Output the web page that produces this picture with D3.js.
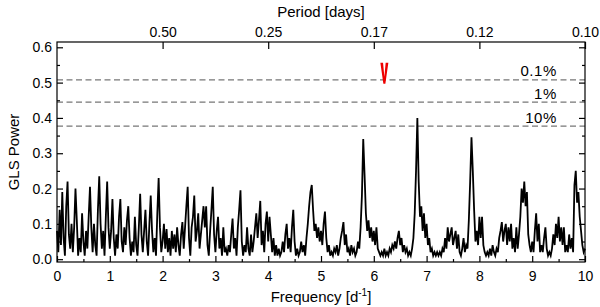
<!DOCTYPE html>
<html>
<head>
<meta charset="utf-8">
<script src="https://cdn.jsdelivr.net/npm/d3@7"></script>
<style>
  body { margin: 0; background: #fff; }
  svg text { font-family: "Liberation Sans", Arial, sans-serif; fill: #000; }
</style>
</head>
<body>
<div id="chart"></div>
<script>
// GLS periodogram, power sampled every 0.025 d^-1 from 0 to 10
var freqStep = 0.025;
var power = [
  // 0 - 1
  0.08,0.02,0.14,0.04,0.19,0.06,0.01,0.15,0.22,0.07,0.03,0.10,0.02,0.09,0.20,0.11,0.01,0.06,0.02,0.13,
  0.05,0.01,0.08,0.03,0.12,0.205,0.09,0.02,0.10,0.04,0.01,0.14,0.235,0.10,0.03,0.08,0.01,0.12,0.22,0.09,
  // 1 - 2
  0.03,0.08,0.17,0.06,0.01,0.07,0.03,0.12,0.17,0.05,0.02,0.09,0.04,0.11,0.15,0.06,0.01,0.05,0.02,0.12,
  0.04,0.01,0.09,0.185,0.07,0.02,0.08,0.14,0.05,0.01,0.10,0.18,0.08,0.02,0.06,0.01,0.13,0.23,0.09,0.02,
  // 2 - 3
  0.05,0.10,0.03,0.085,0.02,0.06,0.01,0.08,0.03,0.07,0.02,0.09,0.04,0.01,0.07,0.105,0.03,0.09,0.15,0.205,
  0.06,0.01,0.09,0.12,0.18,0.05,0.08,0.13,0.03,0.07,0.11,0.15,0.09,0.15,0.04,0.01,0.08,0.14,0.205,0.07,
  // 3 - 4
  0.02,0.08,0.12,0.03,0.06,0.01,0.09,0.02,0.03,0.01,0.04,0.02,0.07,0.115,0.03,0.06,0.01,0.09,0.14,0.195,
  0.05,0.01,0.04,0.02,0.09,0.03,0.01,0.07,0.02,0.05,0.09,0.13,0.06,0.11,0.165,0.04,0.08,0.02,0.10,0.135,
  // 4 - 5
  0.05,0.12,0.07,0.02,0.06,0.01,0.04,0.01,0.03,0.01,0.02,0.05,0.02,0.07,0.10,0.03,0.06,0.02,0.09,0.14,
  0.05,0.01,0.03,0.01,0.02,0.05,0.02,0.04,0.01,0.06,0.10,0.15,0.19,0.21,0.14,0.08,0.10,0.06,0.09,0.05,
  // 5 - 6
  0.08,0.04,0.10,0.135,0.06,0.02,0.04,0.01,0.02,0.01,0.03,0.02,0.04,0.01,0.03,0.06,0.08,0.105,0.04,0.07,
  0.02,0.03,0.01,0.04,0.02,0.03,0.01,0.02,0.05,0.03,0.09,0.18,0.34,0.24,0.13,0.08,0.11,0.06,0.09,0.05,
  // 6 - 7
  0.08,0.04,0.09,0.03,0.02,0.01,0.02,0.01,0.03,0.01,0.02,0.01,0.03,0.02,0.04,0.03,0.05,0.03,0.06,0.08,
  0.04,0.06,0.02,0.04,0.02,0.03,0.01,0.02,0.01,0.03,0.06,0.13,0.25,0.40,0.22,0.12,0.15,0.08,0.13,0.06,
  // 7 - 8
  0.10,0.04,0.06,0.02,0.03,0.01,0.02,0.01,0.02,0.01,0.02,0.01,0.03,0.02,0.06,0.03,0.09,0.05,0.07,0.09,
  0.04,0.06,0.08,0.03,0.07,0.02,0.01,0.03,0.06,0.02,0.04,0.03,0.11,0.22,0.345,0.25,0.14,0.05,0.08,0.04,
  // 8 - 9
  0.12,0.06,0.12,0.04,0.02,0.01,0.02,0.01,0.03,0.01,0.04,0.02,0.01,0.03,0.02,0.06,0.08,0.105,0.05,0.08,
  0.10,0.04,0.09,0.05,0.10,0.03,0.06,0.02,0.09,0.03,0.07,0.12,0.20,0.16,0.22,0.15,0.19,0.07,0.04,0.02,
  // 9 - 10
  0.05,0.02,0.08,0.13,0.05,0.10,0.02,0.04,0.02,0.06,0.09,0.03,0.01,0.02,0.01,0.03,0.07,0.04,0.10,0.06,
  0.12,0.05,0.09,0.04,0.09,0.02,0.04,0.02,0.07,0.03,0.06,0.02,0.21,0.25,0.16,0.19,0.12,0.08,0.04,0.02,
  0.03
];

// false alarm probability levels
var fapLevels = [0.508, 0.445, 0.377];
var fapLabels = ["0.1%", "1%", "10%"];

// top axis: period ticks
var periodFreqs = [2, 4, 6, 8, 10];
var periodLabels = ["0.50", "0.25", "0.17", "0.12", "0.10"];

// marker
var markFreq = 6.2, markTop = 0.556, markTip = 0.497;

var width = 600, height = 307;
var mLeft = 57, mRight = 585, mTop = 42, mBottom = 262;

var svg = d3.select("#chart").append("svg")
  .attr("width", width)
  .attr("height", height);

var x = d3.scaleLinear().domain([0, 10]).range([mLeft, mRight]);
var y = d3.scaleLinear().domain([-0.008, 0.615]).range([mBottom, mTop]);

var data = power.map(function(p, i) { return { f: i * freqStep, p: p }; });

// dashed FAP lines
svg.append("g").selectAll("line")
  .data(fapLevels)
  .enter().append("line")
  .attr("x1", mLeft).attr("x2", mRight)
  .attr("y1", function(d) { return y(d); })
  .attr("y2", function(d) { return y(d); })
  .attr("stroke", "#777")
  .attr("stroke-width", 1.2)
  .attr("stroke-dasharray", "6,3.5");

svg.append("g").selectAll("text")
  .data(fapLevels)
  .enter().append("text")
  .attr("x", 557)
  .attr("y", function(d) { return y(d) - 3.5; })
  .style("text-anchor", "end")
  .style("font-size", "15px")
  .style("letter-spacing", "0.6px")
  .text(function(d, i) { return fapLabels[i]; });

// periodogram
var line = d3.line()
  .x(function(d) { return x(d.f); })
  .y(function(d) { return y(d.p); });

svg.append("path")
  .datum(data)
  .attr("d", line)
  .attr("fill", "none")
  .attr("stroke", "#000")
  .attr("stroke-width", 1.8);

// red marker
var mx = x(markFreq), mt = y(markTop), mb = y(markTip);
svg.append("path")
  .attr("d", "M" + (mx - 4) + "," + mt + "L" + (mx - 1.3) + "," + mt +
             "L" + mx + "," + (mb - 7) + "L" + (mx + 1.3) + "," + mt +
             "L" + (mx + 4) + "," + mt + "L" + (mx + 1) + "," + mb +
             "L" + (mx - 1) + "," + mb + "Z")
  .attr("fill", "#e00");

// frame
svg.append("rect")
  .attr("x", mLeft).attr("y", mTop)
  .attr("width", mRight - mLeft).attr("height", mBottom - mTop)
  .attr("fill", "none")
  .attr("stroke", "#000")
  .attr("stroke-width", 1.2);

// axes
var fmtY = d3.format(".1f");
function noDomain(g) { g.select(".domain").remove(); }

svg.append("g")
  .attr("transform", "translate(" + mLeft + ",0)")
  .call(d3.axisLeft(y).tickValues(d3.range(0, 0.61, 0.1)).tickFormat(fmtY).tickSizeInner(-6).tickSizeOuter(0).tickPadding(5))
  .call(noDomain);
svg.append("g")
  .attr("transform", "translate(" + mLeft + ",0)")
  .call(d3.axisLeft(y).tickValues(d3.range(0.05, 0.61, 0.1)).tickFormat("").tickSizeInner(-3).tickSizeOuter(0))
  .call(noDomain);
svg.append("g")
  .attr("transform", "translate(" + mRight + ",0)")
  .call(d3.axisRight(y).tickValues(d3.range(0, 0.61, 0.1)).tickFormat("").tickSizeInner(-6).tickSizeOuter(0))
  .call(noDomain);
svg.append("g")
  .attr("transform", "translate(" + mRight + ",0)")
  .call(d3.axisRight(y).tickValues(d3.range(0.05, 0.61, 0.1)).tickFormat("").tickSizeInner(-3).tickSizeOuter(0))
  .call(noDomain);

svg.append("g")
  .attr("transform", "translate(0," + mBottom + ")")
  .call(d3.axisBottom(x).ticks(10).tickSizeInner(-6).tickSizeOuter(0).tickPadding(9))
  .call(noDomain);
svg.append("g")
  .attr("transform", "translate(0," + mBottom + ")")
  .call(d3.axisBottom(x).tickValues(d3.range(0.5, 10, 1)).tickFormat("").tickSizeInner(-3).tickSizeOuter(0))
  .call(noDomain);

svg.append("g")
  .attr("transform", "translate(0," + mTop + ")")
  .call(d3.axisTop(x).tickValues(periodFreqs)
    .tickFormat(function(d, i) { return periodLabels[i]; })
    .tickSizeInner(-7).tickSizeOuter(0).tickPadding(5))
  .call(noDomain);

svg.selectAll(".tick line").attr("stroke", "#000").attr("stroke-width", 1.2);
svg.selectAll(".tick text").style("font-size", "14px").style("font-family", "Liberation Sans, Arial, sans-serif");

// labels
svg.append("text")
  .attr("x", (mLeft + mRight) / 2)
  .attr("y", 17)
  .style("text-anchor", "middle")
  .style("font-size", "15px")
  .text("Period [days]");

var xl = svg.append("text")
  .attr("x", (mLeft + mRight) / 2)
  .attr("y", 302)
  .style("text-anchor", "middle")
  .style("font-size", "15px");
xl.append("tspan").text("Frequency [d");
xl.append("tspan").attr("dy", -6).style("font-size", "10px").text("-1");
xl.append("tspan").attr("dy", 6).text("]");

svg.append("text")
  .attr("transform", "rotate(-90)")
  .attr("x", -(mTop + mBottom) / 2)
  .attr("y", 19)
  .style("text-anchor", "middle")
  .style("font-size", "15px")
  .text("GLS Power");
</script>
</body>
</html>
